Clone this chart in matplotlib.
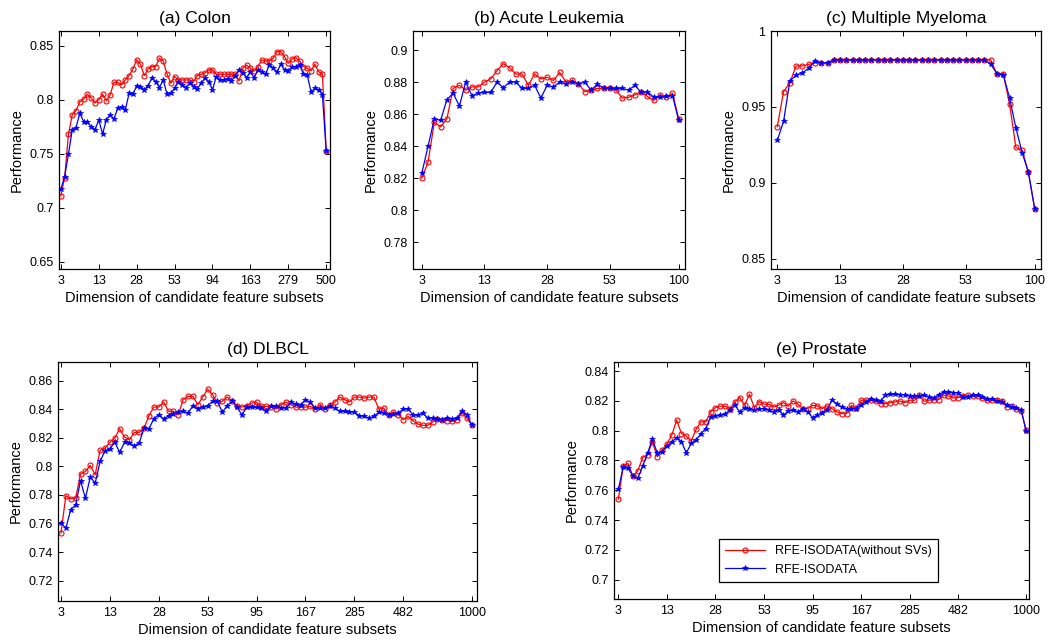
import matplotlib
matplotlib.use('Agg')
import matplotlib.pyplot as plt

plt.rcParams['font.family'] = ['Liberation Sans', 'DejaVu Sans']

# ---- data ----
colon_red = [0.711, 0.728, 0.768, 0.786, 0.790, 0.798, 0.8005, 0.805, 0.8015, 0.797,
             0.800, 0.805, 0.799, 0.8045, 0.816, 0.816, 0.8137, 0.8183, 0.8223, 0.8282,
             0.8368, 0.8328, 0.8223, 0.8282, 0.8306, 0.8306, 0.8383, 0.8358, 0.8238, 0.8152,
             0.8214, 0.8183, 0.8183, 0.8183, 0.8183, 0.8168, 0.8223, 0.8235, 0.8245, 0.8275,
             0.8275, 0.8235, 0.8235, 0.8235, 0.8235, 0.8235, 0.8235, 0.8174, 0.829, 0.832,
             0.829, 0.8266, 0.8306, 0.8368, 0.8358, 0.8358, 0.8383, 0.8445, 0.8445, 0.8398,
             0.8337, 0.8377, 0.8389, 0.8358, 0.8306, 0.829, 0.8269, 0.8328, 0.826, 0.8235,
             0.7528]
colon_blue = [0.7174, 0.729, 0.7497, 0.7722, 0.7743, 0.7875, 0.7798, 0.7792, 0.7752, 0.7722,
              0.7814, 0.7682, 0.7814, 0.786, 0.782, 0.7922, 0.7928, 0.7906, 0.806, 0.8051,
              0.8128, 0.8122, 0.8091, 0.8131, 0.8198, 0.8168, 0.8112, 0.8183, 0.8051, 0.806,
              0.8106, 0.8168, 0.8137, 0.8112, 0.8152, 0.8122, 0.810, 0.8152, 0.8198, 0.8168,
              0.8091, 0.8214, 0.8183, 0.8183, 0.8189, 0.8174, 0.8223, 0.8275, 0.8245, 0.8205,
              0.8254, 0.8205, 0.8275, 0.826, 0.8235, 0.8322, 0.8291, 0.8254, 0.8328, 0.8275,
              0.8266, 0.8306, 0.8306, 0.8322, 0.8235, 0.8229, 0.8069, 0.8106, 0.8091, 0.8045,
              0.7522]
colon_xlabels = ['3', '13', '28', '53', '94', '163', '279', '500']

leuk_red = [0.820, 0.830, 0.855, 0.852, 0.857, 0.876, 0.878, 0.875, 0.877, 0.877,
            0.880, 0.882, 0.887, 0.8915, 0.889, 0.885, 0.885, 0.878, 0.885, 0.882,
            0.883, 0.881, 0.886, 0.880, 0.881, 0.879, 0.874, 0.875, 0.876, 0.876,
            0.876, 0.875, 0.870, 0.8705, 0.872, 0.874, 0.871, 0.8685, 0.872, 0.8705,
            0.873, 0.857]
leuk_blue = [0.823, 0.840, 0.857, 0.856, 0.869, 0.873, 0.865, 0.880, 0.8715, 0.873,
             0.8735, 0.8735, 0.880, 0.8765, 0.880, 0.880, 0.876, 0.876, 0.878, 0.870,
             0.878, 0.877, 0.880, 0.879, 0.880, 0.879, 0.880, 0.875, 0.8785, 0.8765,
             0.876, 0.876, 0.876, 0.875, 0.878, 0.8735, 0.874, 0.8705, 0.8705, 0.871,
             0.8715, 0.856]
leuk_xlabels = ['3', '13', '28', '53', '100']

myel_red = [0.937, 0.960, 0.966, 0.977, 0.977, 0.978, 0.979, 0.979, 0.979,
            0.981, 0.981, 0.981, 0.981, 0.981, 0.981, 0.981, 0.981, 0.981, 0.981,
            0.981, 0.981, 0.981, 0.981, 0.981, 0.981, 0.981, 0.981, 0.981, 0.981,
            0.981, 0.981, 0.981, 0.981, 0.981, 0.981,
            0.9715, 0.972, 0.952, 0.9235, 0.9215, 0.907, 0.883]
myel_blue = [0.928, 0.9405, 0.967, 0.971, 0.9725, 0.9754, 0.9805, 0.979, 0.979,
             0.981, 0.981, 0.981, 0.981, 0.981, 0.981, 0.981, 0.981, 0.981, 0.981,
             0.981, 0.981, 0.981, 0.981, 0.981, 0.981, 0.981, 0.981, 0.981, 0.981,
             0.981, 0.981, 0.981, 0.981, 0.981,
             0.978, 0.972, 0.971, 0.956, 0.9363, 0.920, 0.907, 0.883]
myel_xlabels = ['3', '13', '28', '53', '100']

dlbcl_red = [0.7532, 0.7794, 0.7773, 0.7777, 0.7946, 0.7964, 0.8006, 0.7941, 0.8112, 0.8128,
             0.8168, 0.8198, 0.8263, 0.8205, 0.8186, 0.8238, 0.8238, 0.8268, 0.8355, 0.8415,
             0.8415, 0.845, 0.8385, 0.8385, 0.8362, 0.8467, 0.849, 0.849, 0.8432, 0.8485,
             0.8541, 0.8502, 0.8443, 0.8455, 0.8486, 0.8455, 0.8425, 0.8415, 0.8425, 0.8443,
             0.8448, 0.842, 0.842, 0.8413, 0.8401, 0.8432, 0.845, 0.8432, 0.8415, 0.8413,
             0.8415, 0.842, 0.8401, 0.8432, 0.8404, 0.8432, 0.845, 0.8485, 0.8467, 0.845,
             0.8485, 0.8485, 0.8478, 0.8485, 0.8485, 0.8401, 0.8408, 0.8362, 0.8378, 0.8362,
             0.8327, 0.835, 0.832, 0.8296, 0.8287, 0.8287, 0.831, 0.8331, 0.8327, 0.832,
             0.8315, 0.8327, 0.8373, 0.8338, 0.8291]
dlbcl_blue = [0.7602, 0.7567, 0.7696, 0.7731, 0.7899, 0.7777, 0.7925, 0.7883, 0.8034, 0.8109,
              0.8121, 0.817, 0.8098, 0.8168, 0.8163, 0.8144, 0.8163, 0.8268, 0.8263, 0.8334,
              0.8362, 0.8331, 0.8355, 0.8369, 0.8378, 0.8385, 0.8373, 0.8425, 0.8401, 0.8415,
              0.8425, 0.8455, 0.8455, 0.8378, 0.8425, 0.8455, 0.8415, 0.836, 0.8413, 0.8413,
              0.8413, 0.841, 0.8385, 0.842, 0.842, 0.8408, 0.8408, 0.8448, 0.8436, 0.8427,
              0.8467, 0.8448, 0.8408, 0.8408, 0.8408, 0.842, 0.8408, 0.8385, 0.8385, 0.838,
              0.838, 0.8355, 0.835, 0.8338, 0.835, 0.8378, 0.8373, 0.8362, 0.8366, 0.8373,
              0.8401, 0.8401, 0.8362, 0.8357, 0.8373, 0.8338, 0.8338, 0.8331, 0.8327, 0.8338,
              0.8331, 0.8338, 0.8385, 0.8362, 0.8291]
dlbcl_xlabels = ['3', '13', '28', '53', '95', '167', '285', '482', '1000']

prost_red = [0.7541, 0.7764, 0.778, 0.7695, 0.7731, 0.7818, 0.784, 0.7925, 0.7825, 0.7869,
             0.791, 0.797, 0.807, 0.7981, 0.7963, 0.7932, 0.8008, 0.8059, 0.8059, 0.8126,
             0.8155, 0.8164, 0.8164, 0.8148, 0.8193, 0.8222, 0.817, 0.8244, 0.8155, 0.8195,
             0.8177, 0.8177, 0.8159, 0.817, 0.8188, 0.8164, 0.82, 0.8177, 0.8148, 0.8148,
             0.817, 0.8166, 0.8148, 0.8166, 0.8148, 0.8126, 0.8115, 0.8115, 0.817, 0.8152,
             0.8204, 0.8204, 0.8204, 0.8197, 0.8181, 0.8181, 0.8188, 0.8193, 0.8199, 0.8188,
             0.8204, 0.8204, 0.8237, 0.8197, 0.8204, 0.8208, 0.8208, 0.8237, 0.8233, 0.8219,
             0.8222, 0.8233, 0.8237, 0.8233, 0.8233, 0.8219, 0.8208, 0.8208, 0.8204, 0.8199,
             0.8159, 0.8164, 0.8148, 0.8132, 0.8003]
prost_blue = [0.7606, 0.7758, 0.7747, 0.7695, 0.768, 0.7762, 0.7847, 0.7943, 0.7851, 0.7858,
              0.7896, 0.7925, 0.7954, 0.7925, 0.7851, 0.7914, 0.7936, 0.7981, 0.8014, 0.8092,
              0.8099, 0.8103, 0.811, 0.8141, 0.817, 0.8126, 0.8155, 0.8148, 0.8137, 0.8148,
              0.8148, 0.8137, 0.8126, 0.8141, 0.8103, 0.8132, 0.8141, 0.8126, 0.8148, 0.8126,
              0.8088, 0.8103, 0.8121, 0.8141, 0.8204, 0.8181, 0.8159, 0.8148, 0.8148, 0.8148,
              0.8175, 0.8193, 0.8215, 0.8204, 0.8197, 0.8237, 0.8244, 0.8244, 0.8242, 0.8242,
              0.8233, 0.8233, 0.8233, 0.8242, 0.8226, 0.8219, 0.8242, 0.826, 0.826, 0.8255,
              0.8255, 0.8226, 0.8226, 0.8237, 0.8237, 0.8226, 0.8215, 0.8215, 0.8197, 0.8193,
              0.8175, 0.8159, 0.8152, 0.8137, 0.7995]
prost_xlabels = ['3', '13', '28', '53', '95', '167', '285', '482', '1000']

names = ['RFE-ISODATA(without SVs)', 'RFE-ISODATA']

fig = plt.figure(figsize=(10.55, 6.42), dpi=100)


def panel(rect, red, blue, xlabels, xlim, ylim, yticks, title, legend=False):
    ax = fig.add_axes(rect)
    ax.plot(range(len(red)), red, '-o', color='#ff0000', lw=0.9, ms=3.6,
            mfc='none', mew=0.8, label=names[0])
    ax.plot(range(len(blue)), blue, '-*', color='#0000ff', lw=0.9, ms=4.2,
            mew=0.5, label=names[1])
    # ticks every 10 points, last tick on the last point
    xt = [10 * k for k in range(len(xlabels) - 1)] + [len(red) - 1]
    ax.set_xticks(xt)
    ax.set_xticklabels(xlabels)
    ax.set_yticks(yticks)
    ax.set_yticklabels(['%g' % v for v in yticks])
    ax.set_xlim(xlim)
    ax.set_ylim(ylim)
    ax.tick_params(direction='in', top=True, right=True, length=3.5, width=0.7,
                   labelsize=9, pad=4)
    for s in ax.spines.values():
        s.set_linewidth(0.9)
    ax.set_title(title, fontsize=12.5, pad=6)
    ax.set_xlabel('Dimension of candidate feature subsets', fontsize=10.5, labelpad=3.5)
    ax.set_ylabel('Performance', fontsize=10.5, labelpad=4)
    if legend:
        leg = ax.legend(loc='lower left', bbox_to_anchor=(0.253, 0.072), fontsize=9,
                        fancybox=False, edgecolor='black', framealpha=1,
                        handlelength=3.2, borderaxespad=0, borderpad=0.5,
                        labelspacing=0.5)
        leg.get_frame().set_linewidth(0.9)
    return ax


panel([0.0559, 0.581, 0.2569, 0.3707], colon_red, colon_blue, colon_xlabels,
      (-0.5, 71.0), (0.6435, 0.8635), [0.65, 0.7, 0.75, 0.8, 0.85], '(a) Colon')
panel([0.3915, 0.581, 0.2578, 0.3707], leuk_red, leuk_blue, leuk_xlabels,
      (-1.4, 42.0), (0.7632, 0.9119), [0.78, 0.8, 0.82, 0.84, 0.86, 0.88, 0.9],
      '(b) Acute Leukemia')
panel([0.7308, 0.581, 0.2559, 0.3707], myel_red, myel_blue, myel_xlabels,
      (-1.0, 42.0), (0.8434, 1.0), [0.85, 0.9, 0.95, 1.0], '(c) Multiple Myeloma')
panel([0.055, 0.0639, 0.3972, 0.3723], dlbcl_red, dlbcl_blue, dlbcl_xlabels,
      (-0.6, 85.1), (0.7057, 0.8731), [0.72, 0.74, 0.76, 0.78, 0.8, 0.82, 0.84, 0.86],
      '(d) DLBCL')
panel([0.582, 0.067, 0.3934, 0.369], prost_red, prost_blue, prost_xlabels,
      (-0.9, 84.6), (0.6871, 0.846), [0.7, 0.72, 0.74, 0.76, 0.78, 0.8, 0.82, 0.84],
      '(e) Prostate', legend=True)

fig.savefig('out.png', dpi=100)
